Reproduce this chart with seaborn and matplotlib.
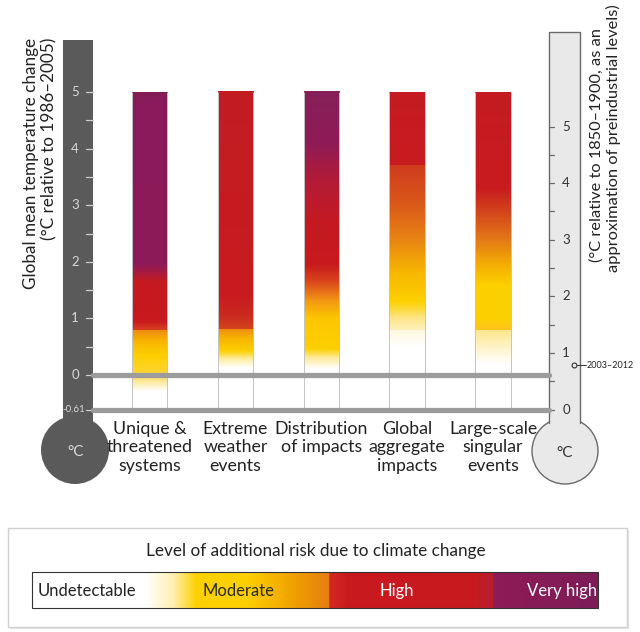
import numpy as np
import matplotlib
matplotlib.use("Agg")
import matplotlib.pyplot as plt
from matplotlib.colors import to_rgb
from matplotlib.patches import Rectangle, Circle
from matplotlib.transforms import blended_transform_factory
import seaborn as sns

# Reasons for concern
categories = ["Unique &\nthreatened\nsystems", "Extreme\nweather\nevents",
              "Distribution\nof impacts", "Global\naggregate\nimpacts",
              "Large-scale\nsingular\nevents"]

# colour stops along each bar: (°C relative to 1986-2005, colour)
unique_stops = [(-0.28, "#ffffff"), (-0.12, "#fdeaa0"), (0.05, "#fed430"), (0.35, "#fdcf00"),
                (0.6, "#f8b400"), (0.8, "#ef8a12"), (0.8, "#d8401e"), (0.95, "#c8191e"),
                (1.65, "#c41a20"), (1.95, "#8e1b58"), (4.8, "#8a1a5c"), (5.0, "#841e57")]
extreme_stops = [(0.12, "#ffffff"), (0.28, "#feec9c"), (0.42, "#fdd000"), (0.65, "#f7b200"),
                 (0.8, "#ee8f10"), (0.8, "#d4441c"), (1.05, "#cb2a1f"), (1.4, "#c81b1f"),
                 (5.0, "#c21d23")]
distribution_stops = [(0.1, "#ffffff"), (0.3, "#feea98"), (0.45, "#fdd000"), (1.0, "#fcc600"),
                      (1.3, "#f29814"), (1.65, "#d8441c"), (1.95, "#c8191e"), (2.7, "#c41a22"),
                      (3.4, "#b41c36"), (4.1, "#8e1b58"), (5.0, "#86205a")]
aggregate_stops = [(0.5, "#ffffff"), (0.8, "#fff7dc"), (0.8, "#fff0bc"), (1.0, "#fde68a"),
                   (1.3, "#fdd000"), (1.8, "#f8b800"), (2.4, "#e88414"), (3.0, "#db5a1a"),
                   (3.72, "#cf3c1e"), (3.72, "#c81b1f"), (5.0, "#c41c22")]
singular_stops = [(0.2, "#ffffff"), (0.5, "#fff3c6"), (0.8, "#fde68c"), (0.8, "#fdc420"),
                  (1.0, "#fdd000"), (1.6, "#fccf00"), (1.95, "#f4ae04"), (2.4, "#e47816"),
                  (2.9, "#d3431c"), (3.3, "#c81b1f"), (5.0, "#c41c22")]
bar_stops = [unique_stops, extreme_stops, distribution_stops, aggregate_stops, singular_stops]

bar_top = 5.0
baseline = -0.61          # 1850-1900 level on the 1986-2005 scale
left_ticks = [0, 1, 2, 3, 4, 5]
right_ticks = [0, 1, 2, 3, 4, 5]
obs_2003_2012 = 0.78      # relative to 1850-1900

legend_title = "Level of additional risk due to climate change"
legend_levels = ["Undetectable", "Moderate", "High", "Very high"]
legend_stops = [(0.0, "#ffffff"), (0.2, "#ffffff"), (0.25, "#fff0b0"), (0.29, "#fdd000"),
                (0.38, "#fdd000"), (0.46, "#f1a200"), (0.525, "#e67d12"), (0.525, "#d42a20"),
                (0.56, "#c8191e"), (0.78, "#c81b1f"), (0.815, "#b81e30"), (0.815, "#8e1b58"),
                (1.0, "#7d1d57")]


def blend(stops, t):
    xp = [s[0] for s in stops]
    cols = np.array([to_rgb(s[1]) for s in stops])
    return np.stack([np.interp(t, xp, cols[:, k]) for k in range(3)], axis=-1)


sns.set_theme(style="white")
plt.rcParams["font.family"] = ["Lato", "DejaVu Sans"]

W, H = 640, 632
fig = plt.figure(figsize=(W / 100, H / 100), dpi=100)

# background axes in pixel units for the decorations
bg = fig.add_axes([0, 0, 1, 1], zorder=0)
bg.set_axis_off()

# data axes: x = category index, y = °C relative to 1986-2005
ax = fig.add_axes([0, 0, 1, 1], zorder=1)
ax.set_axis_off()
ax.patch.set_alpha(0)
zero_px, deg_px = 375, 56.6
x0_px, step_px = 149.5, 85.9
ax.set_ylim((zero_px - H) / deg_px, zero_px / deg_px)
ax.set_xlim(-x0_px / step_px, (W - x0_px) / step_px)
mix = blended_transform_factory(bg.transData, ax.transData)

# left thermometer
dark = "#5a5a5a"
bg.add_patch(Circle((75, 450), 34, fc=dark, ec="none"))
bg.add_patch(Rectangle((63, 40), 30, 400, fc=dark, ec="none"))
minor = np.arange(0.5, 5, 1.0)
for t in list(left_ticks) + list(minor) + [baseline]:
    ax.plot([86, 93], [t, t], color="#cfcfcf", lw=0.9, transform=mix, zorder=3)
for t in left_ticks:
    ax.text(75, t, str(t), color="#d8d8d8", fontsize=9.5, ha="center", va="center", transform=mix)
ax.text(74, baseline, "-0.61", color="#d8d8d8", fontsize=7, ha="center", va="center", transform=mix)
bg.text(76, 452, "°C", color="#d8d8d8", fontsize=11, ha="center", va="center")
bg.text(31, 38, "Global mean temperature change", rotation=90, fontsize=12.3,
        color="#222222", ha="center", va="top")
bg.text(49, 38, "(°C relative to 1986–2005)", rotation=90, fontsize=12.3,
        color="#222222", ha="center", va="top")

# right thermometer
light, edge = "#e9e9e9", "#6a6a6a"
bg.add_patch(Circle((565, 451), 33, fc=light, ec=edge, lw=1))
bg.add_patch(Rectangle((549, 32), 31, 400, fc=light, ec="none"))
bg.plot([549, 549, 580, 580], [423, 32, 32, 423], color=edge, lw=1)
for t in list(right_ticks) + list(minor):
    ax.plot([549, 554], [t + baseline, t + baseline], color=edge, lw=0.9, transform=mix, zorder=3)
for t in right_ticks:
    ax.text(566, t + baseline, str(t), color="#333333", fontsize=9.5, ha="center", va="center",
            transform=mix)
ax.plot([574], [obs_2003_2012 + baseline], marker="o", ms=3.5, mfc=light, mec="#333333",
        mew=0.8, transform=mix, zorder=4)
ax.plot([577, 586], [obs_2003_2012 + baseline] * 2, color="#333333", lw=0.7, transform=mix)
ax.text(587, obs_2003_2012 + baseline, "2003–2012", fontsize=6.5, color="#222222",
        ha="left", va="center", transform=mix)
bg.text(565, 453, "°C", color="#333333", fontsize=11, ha="center", va="center")
bg.text(597, 262, "(°C relative to 1850–1900, as an", rotation=90, fontsize=11.8,
        color="#222222", ha="center", va="bottom")
bg.text(613, 272, "approximation of preindustrial levels)", rotation=90, fontsize=11.8,
        color="#222222", ha="center", va="bottom")

# gradient bars
width = 35.5 / step_px
for i, stops in enumerate(bar_stops):
    t = np.linspace(stops[0][0], bar_top, 600)
    rgb = blend(stops, t)[:, None, :]
    ax.imshow(rgb, extent=(i - width / 2, i + width / 2, t[0], bar_top), origin="lower",
              aspect="auto", interpolation="nearest", zorder=2)
    ax.vlines([i - width / 2, i + width / 2], baseline, bar_top, color="#c4c4c4", lw=0.7, zorder=2.5)
    ax.text(i, baseline - 0.2, categories[i], ha="center", va="top", fontsize=12.8,
            color="#222222", linespacing=1.2)

for t in [0, baseline]:
    ax.axhline(t, xmin=93 / W, xmax=549 / W, color="#9c9c9c", lw=3.8, zorder=3)

# legend
bg.add_patch(Rectangle((10, 530), 619, 99, fc="#e4e4e4", ec="none", zorder=1))
bg.add_patch(Rectangle((8, 528), 619, 99, fc="white", ec="#d0d0d0", lw=1, zorder=1))
bg.text(316, 551, legend_title, fontsize=12.3, ha="center", va="center", color="#222222")
frac = np.linspace(0, 1, 800)
bg.imshow(blend(legend_stops, frac)[None, :, :], extent=(32, 598, 608, 572),
          aspect="auto", interpolation="bilinear", zorder=2)
bg.add_patch(Rectangle((32, 572), 566, 36, fill=False, ec="#333333", lw=0.8, zorder=3))
label_x = [38, 238, 397, 597]
label_ha = ["left", "center", "center", "right"]
label_col = ["#222222", "#2a2a2a", "white", "white"]
for name, x, ha, c in zip(legend_levels, label_x, label_ha, label_col):
    bg.text(x, 591, name, fontsize=12, ha=ha, va="center", color=c, zorder=4)

bg.set_xlim(0, W)
bg.set_ylim(H, 0)

fig.savefig("out.png", dpi=100)
